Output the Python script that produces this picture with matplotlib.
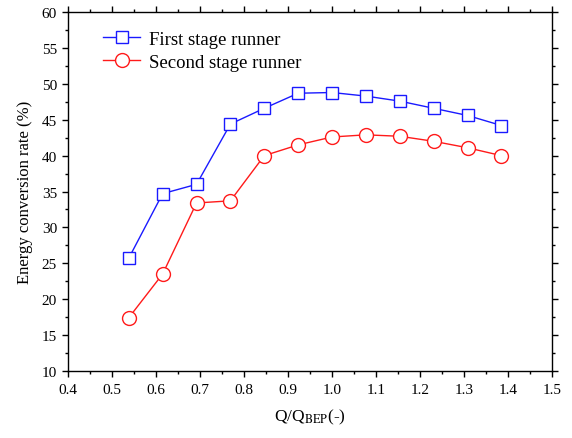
import matplotlib
matplotlib.use("Agg")
import matplotlib.pyplot as plt
from matplotlib.ticker import MultipleLocator

plt.rcParams["font.family"] = ["Liberation Serif", "DejaVu Serif"]
plt.rcParams["mathtext.fontset"] = "stix"

flow_ratio = [0.538, 0.615, 0.692, 0.769, 0.846, 0.923, 1.0,
              1.077, 1.154, 1.231, 1.308, 1.385]
first_stage = [25.7, 34.7, 36.0, 44.4, 46.6, 48.7, 48.8,
               48.3, 47.6, 46.6, 45.6, 44.2]
second_stage = [17.4, 23.5, 33.4, 33.7, 40.0, 41.5, 42.6,
                42.9, 42.7, 42.0, 41.1, 40.0]
series_labels = ["First stage runner", "Second stage runner"]

fig = plt.figure(figsize=(5.72, 4.39), dpi=100)
ax = fig.add_axes([0.119, 0.153, 0.846, 0.817])

ax.plot(flow_ratio, first_stage, color="#1a1aff", lw=1.0, marker="s",
        ms=9, mfc="white", mec="#1a1aff", mew=1.0, label=series_labels[0])
ax.plot(flow_ratio, second_stage, color="#ff1a1a", lw=1.0, marker="o",
        ms=10, mfc="white", mec="#ff1a1a", mew=1.0, label=series_labels[1])

ax.set_xlim(0.4, 1.5)
ax.set_ylim(10, 60)
ax.xaxis.set_major_locator(MultipleLocator(0.1))
ax.xaxis.set_minor_locator(MultipleLocator(0.05))
ax.yaxis.set_major_locator(MultipleLocator(5))
ax.yaxis.set_minor_locator(MultipleLocator(2.5))
ax.xaxis.set_major_formatter(plt.FuncFormatter(lambda v, p: f"{v:.1f}"))

ax.tick_params(which="both", direction="out", labelsize=11,
               top=True, right=True, width=1.0)
ax.tick_params(which="major", length=4.5)
ax.tick_params(which="minor", length=2.5)
ax.tick_params(axis="x", pad=4)
for s in ax.spines.values():
    s.set_linewidth(1.0)

# subscript set in the Times-like STIX math font, rest in plain text
ax.set_xlabel(r"Q/Q$_{\mathrm{BEP}}$(-)", fontsize=12.5, labelpad=8)
ax.set_ylabel("Energy conversion rate (%)", fontsize=12, labelpad=6)

ax.legend(loc="upper left", frameon=False, fontsize=13.5, handlelength=2.0,
          handletextpad=0.45, labelspacing=0.3, borderaxespad=0.3,
          bbox_to_anchor=(0.045, 0.985))

fig.savefig("out.png", dpi=100)
